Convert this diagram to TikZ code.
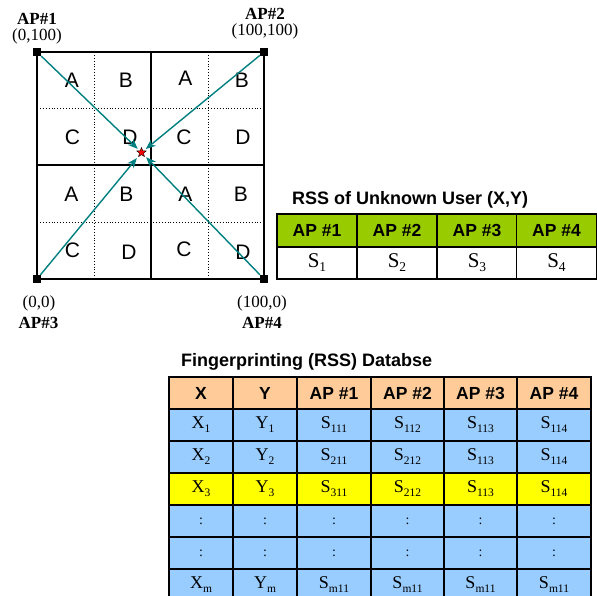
\documentclass[tikz,border=0pt]{standalone}
\usepackage{fontspec}
\setmainfont{Liberation Serif}
\setsansfont{Liberation Sans}
\usetikzlibrary{arrows.meta,shapes.geometric}
\definecolor{tealc}{RGB}{0,128,128}
\definecolor{greenh}{RGB}{153,204,0}
\definecolor{peach}{RGB}{255,204,153}
\definecolor{bluec}{RGB}{153,204,255}
\definecolor{yell}{RGB}{255,255,0}
\newcommand\sbx[3]{#1\raisebox{-4pt}{\fontsize{#3}{#3}\selectfont #2}}
\newcommand\dsub[2]{\sbx{#1}{#2}{11.5}}
\newcommand\dcol{{\fontsize{14}{14}\selectfont :}}
\tikzset{
  apsq/.style={fill=black,minimum size=8pt,inner sep=0pt},
  cellletter/.style={font=\sffamily\fontsize{21}{21}\selectfont,inner sep=0pt},
  aplabel/.style={font=\bfseries\fontsize{17}{17}\selectfont,inner sep=0pt},
  coordlabel/.style={font=\fontsize{17}{17}\selectfont,inner sep=0pt},
  arr/.style={draw=tealc,line width=1.4pt,-{Stealth[length=10pt,width=8pt]},shorten >=2.5pt},
  title/.style={font=\sffamily\bfseries\fontsize{18}{20}\selectfont,inner sep=0pt,anchor=base west},
  cell/.style={draw=black,line width=1.6pt,inner sep=0pt,anchor=center},
  hcell/.style={cell,font=\sffamily\bfseries\fontsize{17.5}{18}\selectfont},
  dcell/.style={cell,font=\fontsize{18}{18}\selectfont},
}
% database row: #1 row id, #2 center y, #3 fill, #4..#9 contents
\newcommand\dbrow[9]{%
  \node[dcell,fill=#3,minimum width=64pt,minimum height=32pt] (db-#1-1) at (201,#2) {#4};
  \node[dcell,fill=#3,minimum width=64pt,minimum height=32pt] (db-#1-2) at (265,#2) {#5};
  \node[dcell,fill=#3,minimum width=74pt,minimum height=32pt] (db-#1-3) at (334,#2) {#6};
  \node[dcell,fill=#3,minimum width=73pt,minimum height=32pt] (db-#1-4) at (407.5,#2) {#7};
  \node[dcell,fill=#3,minimum width=73pt,minimum height=32pt] (db-#1-5) at (480.5,#2) {#8};
  \node[dcell,fill=#3,minimum width=74pt,minimum height=32pt] (db-#1-6) at (554,#2) {#9};
}
\begin{document}
\begin{tikzpicture}[x=1pt,y=-1pt]
\clip (0,0) rectangle (597,596);
\useasboundingbox (0,0) rectangle (597,596);
\fill[white] (0,0) rectangle (597,596);

% grid
\coordinate (tl) at (37,52);
\coordinate (br) at (264,279);
\draw[line width=0.9pt,dotted] (94,52) -- (94,279);
\draw[line width=0.9pt,dotted] (208,52) -- (208,279);
\draw[line width=0.9pt,dotted] (37,108) -- (264,108);
\draw[line width=0.9pt,dotted] (37,222) -- (264,222);
\draw[line width=1.5pt] (151,52) -- (151,279);
\draw[line width=1.5pt] (37,165) -- (264,165);
\draw[line width=2pt] (tl) rectangle (br);

% letters
\node[cellletter] (l11) at (72,80) {A};
\node[cellletter] (l12) at (126,80) {B};
\node[cellletter] (l13) at (185.5,78) {A};
\node[cellletter] (l14) at (242,80) {B};
\node[cellletter] (l21) at (72.5,137.5) {C};
\node[cellletter] (l22) at (130,137) {D};
\node[cellletter] (l23) at (184,137) {C};
\node[cellletter] (l24) at (243,137) {D};
\node[cellletter] (l31) at (71.5,194) {A};
\node[cellletter] (l32) at (126.5,194) {B};
\node[cellletter] (l33) at (185.5,194) {A};
\node[cellletter] (l34) at (241,194) {B};
\node[cellletter] (l41) at (72.5,250) {C};
\node[cellletter] (l42) at (129,252) {D};
\node[cellletter] (l43) at (184,249) {C};
\node[cellletter] (l44) at (243,252) {D};

% access points
\node[apsq] (ap1) at (37,52) {};
\node[apsq] (ap2) at (264,52) {};
\node[apsq] (ap3) at (37,279) {};
\node[apsq] (ap4) at (264,279) {};

% user
\node[star,star points=5,star point ratio=2.3,fill=red,draw=black,line width=0.4pt,minimum size=10pt,inner sep=0pt] (user) at (141.5,152.5) {};
\draw[arr] (ap1) -- (user);
\draw[arr] (ap2) -- (user);
\draw[arr] (ap3) -- (user);
\draw[arr] (ap4) -- (user);

% labels
\node[aplabel] (t1) at (37,18.5) {AP\#1};
\node[coordlabel] (k1) at (37,36.5) {(0,100)};
\node[aplabel] (t2) at (265,13.5) {AP\#2};
\node[coordlabel] (k2) at (265,31.5) {(100,100)};
\node[coordlabel] (k3) at (39,303.5) {(0,0)};
\node[aplabel] (t3) at (38.5,323) {AP\#3};
\node[coordlabel] (k4) at (262,303.5) {(100,0)};
\node[aplabel] (t4) at (262,323) {AP\#4};

% RSS table
\node[title] (rsst) at (292,205) {RSS of Unknown User (X,Y)};
\foreach \i/\cx in {1/317,2/397,3/477,4/556.5}{
  \node[hcell,fill=greenh,minimum width=80pt,minimum height=32.5pt] (rh\i) at (\cx,230.5) {AP \#\i};
  \node[cell,fill=white,minimum width=80pt,minimum height=32.5pt,font=\fontsize{21}{21}\selectfont] (rd\i) at (\cx,263) {\sbx{S}{\i}{13.5}};
}

% database
\node[title] (dbt) at (181,366) {Fingerprinting (RSS) Databse};
\node[hcell,fill=peach,minimum width=64pt,minimum height=32pt] (dbh1) at (201,393) {X};
\node[hcell,fill=peach,minimum width=64pt,minimum height=32pt] (dbh2) at (265,393) {Y};
\node[hcell,fill=peach,minimum width=74pt,minimum height=32pt] (dbh3) at (334,393) {AP \#1};
\node[hcell,fill=peach,minimum width=73pt,minimum height=32pt] (dbh4) at (407.5,393) {AP \#2};
\node[hcell,fill=peach,minimum width=73pt,minimum height=32pt] (dbh5) at (480.5,393) {AP \#3};
\node[hcell,fill=peach,minimum width=74pt,minimum height=32pt] (dbh6) at (554,393) {AP \#4};
\dbrow{1}{425}{bluec}{\dsub{X}{1}}{\dsub{Y}{1}}{\dsub{S}{111}}{\dsub{S}{112}}{\dsub{S}{113}}{\dsub{S}{114}}
\dbrow{2}{457}{bluec}{\dsub{X}{2}}{\dsub{Y}{2}}{\dsub{S}{211}}{\dsub{S}{212}}{\dsub{S}{113}}{\dsub{S}{114}}
\dbrow{3}{489}{yell}{\dsub{X}{3}}{\dsub{Y}{3}}{\dsub{S}{311}}{\dsub{S}{212}}{\dsub{S}{113}}{\dsub{S}{114}}
\dbrow{4}{521}{bluec}{\dcol}{\dcol}{\dcol}{\dcol}{\dcol}{\dcol}
\dbrow{5}{553}{bluec}{\dcol}{\dcol}{\dcol}{\dcol}{\dcol}{\dcol}
\dbrow{6}{585}{bluec}{\dsub{X}{m}}{\dsub{Y}{m}}{\dsub{S}{m11}}{\dsub{S}{m11}}{\dsub{S}{m11}}{\dsub{S}{m11}}
\end{tikzpicture}
\end{document}
